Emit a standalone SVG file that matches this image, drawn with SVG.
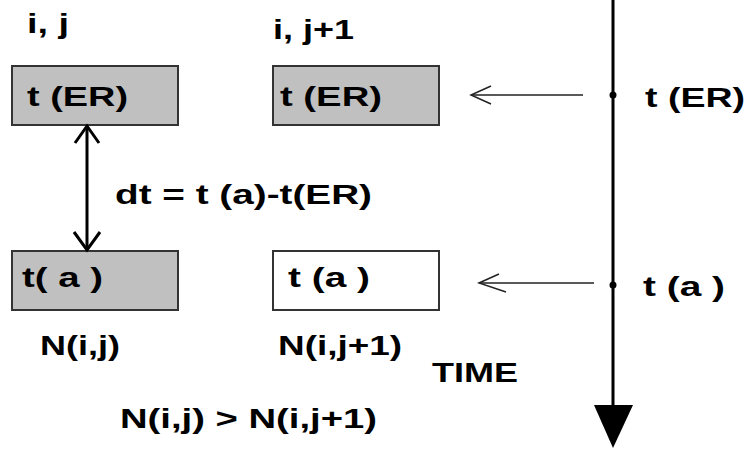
<svg xmlns="http://www.w3.org/2000/svg" width="750" height="450" viewBox="0 0 750 450">
<defs>
<style>
text{font-family:"Liberation Sans",Arial,sans-serif;font-weight:bold;font-size:27px;fill:#000}
.box{stroke:#333;stroke-width:2}
.g{fill:#c0c0c0}
.w{fill:#fff}
.thin{stroke:#222;stroke-width:1.5;fill:none}
.thick{stroke:#000;stroke-width:3;fill:none}
</style>
</defs>
<rect width="750" height="450" fill="#fff"/>
<text x="27" y="33" textLength="42" lengthAdjust="spacingAndGlyphs">i, j</text>
<text x="273" y="39" textLength="81" lengthAdjust="spacingAndGlyphs">i, j+1</text>
<g id="node-er-ij"><rect class="box g" x="12" y="66" width="166" height="59"/><text x="27" y="106" textLength="101" lengthAdjust="spacingAndGlyphs">t (ER)</text></g>
<g id="node-er-ij1"><rect class="box g" x="273" y="66" width="166" height="59"/><text x="280" y="106" textLength="102" lengthAdjust="spacingAndGlyphs">t (ER)</text></g>
<g id="node-a-ij"><rect class="box g" x="12" y="251" width="166" height="59"/><text x="22" y="287" textLength="81" lengthAdjust="spacingAndGlyphs">t( a )</text></g>
<g id="node-a-ij1"><rect class="box w" x="273" y="251" width="166" height="59"/><text x="288" y="287" textLength="82" lengthAdjust="spacingAndGlyphs">t (a )</text></g>
<text x="115" y="204" textLength="257" lengthAdjust="spacingAndGlyphs">dt = t (a)-t(ER)</text>
<text x="40" y="355" textLength="80" lengthAdjust="spacingAndGlyphs">N(i,j)</text>
<text x="278" y="355" textLength="124" lengthAdjust="spacingAndGlyphs">N(i,j+1)</text>
<text x="120" y="428" textLength="257" lengthAdjust="spacingAndGlyphs">N(i,j) &gt; N(i,j+1)</text>
<text x="432" y="382" textLength="86" lengthAdjust="spacingAndGlyphs">TIME</text>
<text x="645" y="107" textLength="100" lengthAdjust="spacingAndGlyphs">t (ER)</text>
<text x="643" y="296" textLength="82" lengthAdjust="spacingAndGlyphs">t (a )</text>
<g id="connectors">
<line class="thick" x1="87" y1="127" x2="87" y2="249"/>
<polyline class="thick" points="75,143 87,126 99,143"/>
<polyline class="thick" points="74,232 87,250 100,232"/>
<line class="thin" x1="583" y1="95" x2="471" y2="95"/>
<polyline class="thin" points="491,86 471,95 491,104"/>
<line class="thin" x1="594" y1="283" x2="479" y2="283"/>
<polyline class="thin" points="499,274 479,283 506,292"/>
<line class="thick" x1="613" y1="0" x2="613" y2="410"/>
<polygon points="594,405 633,405 613,448" fill="#000"/>
<circle cx="613" cy="95" r="3.5" fill="#000"/>
<circle cx="613" cy="285" r="3.5" fill="#000"/>
</g>
</svg>
